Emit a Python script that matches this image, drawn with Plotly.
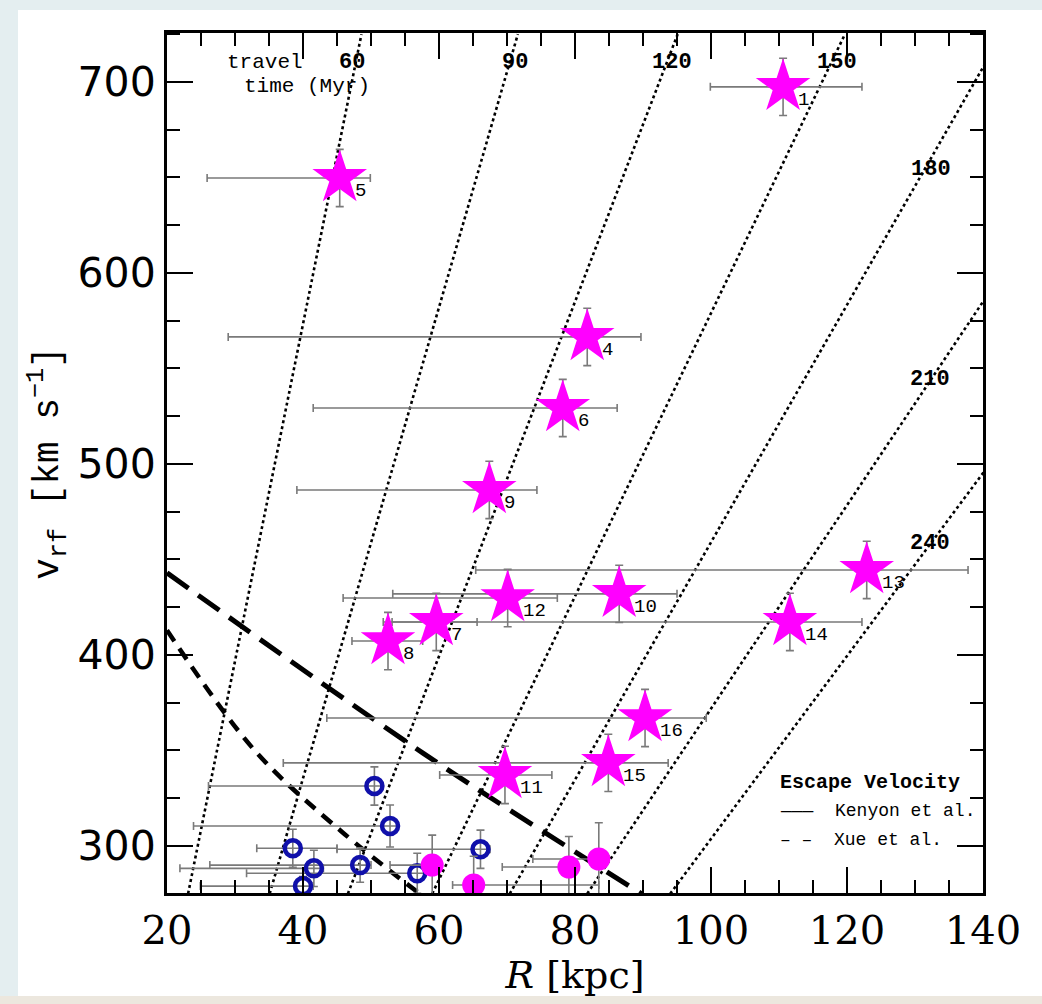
import plotly.graph_objects as go

# ---------------- data ----------------
# hypervelocity stars (magenta stars with labels)
star_id = ["1", "5", "4", "6", "9", "13", "12", "10", "7", "14", "8", "16", "11", "15"]
star_R = [110.6, 45.4, 81.8, 78.2, 67.4, 122.9, 70.1, 86.5, 59.6, 111.6, 52.5, 90.3, 69.7, 84.9]
star_v = [697.4, 649.7, 566.5, 529.3, 486.4, 444.5, 429.8, 432.0, 417.3, 417.3, 407.3, 367.0, 337.2, 343.5]
star_Rlo = [99.9, 25.9, 29.0, 41.5, 39.1, 65.4, 45.9, 53.2, 51.8, 53.1, 47.2, 43.5, 60.1, 37.1]
star_Rhi = [122.2, 49.9, 89.7, 86.2, 74.4, 137.8, 77.4, 95.0, 65.6, 122.2, 57.6, 99.3, 76.6, 93.7]
star_verr = [15, 15, 15, 15, 15, 15, 15, 15, 15, 15, 15, 15, 15, 15]

# bound stars (filled magenta circles)
bnd_R = [59.0, 65.1, 79.1, 83.5]
bnd_v = [290.0, 279.6, 289.0, 293.2]
bnd_Rlo = [52.8, 62.0, 69.3, 73.8]
bnd_Rhi = [60.0, 83.5, 80.5, 85.0]
bnd_verr = [15.7, 15.0, 16.0, 19.0]

# open blue circles
opn_R = [50.5, 52.8, 38.5, 41.6, 48.4, 56.8, 66.1, 40.0]
opn_v = [331.4, 310.5, 298.8, 288.3, 290.0, 285.7, 298.3, 279.0]
opn_Rlo = [26.1, 23.9, 33.2, 21.9, 26.3, 31.7, 45.0, 24.9]
opn_Rhi = [51.5, 54.0, 45.0, 43.0, 50.0, 58.0, 67.5, 41.5]
opn_verr = [10, 11, 10, 9.5, 9, 10.5, 10, 5]

# travel-time lines: R at v=275 and at v=725
tt_label = ["60", "90", "120", "150", "180", "210", "240"]
tt_v_ends = [275, 725]
tt_R_bottom = [23.1, 35.1, 46.6, 59.0, 70.4, 81.8, 94.0]
tt_R_top = [48.6, 71.6, 95.1, 119.7, 142.8, 166.3, 188.0]
tt_lab_R = [47.2, 71.2, 94.2, 118.5, 132.4, 132.2, 132.2]
tt_lab_v = [710.0, 710.0, 710.0, 710.0, 653.9, 544.0, 458.5]

# escape velocity curves
esc1_R = [20, 57.7, 89.8]
esc1_v = [443, 348.5, 275]
esc2_R = [20, 32.9, 45.7, 56.8]
esc2_v = [413, 350, 307.5, 276]

x_range = [20, 140]
y_range = [275.4, 725.6]

# ---------------- figure ----------------
fig = go.Figure()

for i in range(len(tt_label)):
    fig.add_trace(go.Scatter(
        x=[tt_R_bottom[i], tt_R_top[i]], y=tt_v_ends, mode="lines",
        line=dict(color="black", width=2.6, dash="dot"), showlegend=False, hoverinfo="skip"))

fig.add_trace(go.Scatter(x=esc1_R, y=esc1_v, mode="lines",
                         line=dict(color="black", width=5, dash="26px,12px", shape="spline"),
                         showlegend=False))
fig.add_trace(go.Scatter(x=esc2_R, y=esc2_v, mode="lines",
                         line=dict(color="black", width=4.5, dash="13px,9px", shape="spline"),
                         showlegend=False))

errc = "#7a7a7a"

def xerr(R, lo, hi):
    return dict(type="data", symmetric=False,
                array=[h - r for r, h in zip(R, hi)],
                arrayminus=[r - l for r, l in zip(R, lo)],
                color=errc, thickness=1.6, width=4)

def yerr(e):
    return dict(type="data", array=e, color=errc, thickness=1.6, width=4)

fig.add_trace(go.Scatter(
    x=opn_R, y=opn_v, mode="markers",
    marker=dict(symbol="circle-open", size=16, color="#1010aa", line=dict(width=4.5, color="#1010aa")),
    error_x=xerr(opn_R, opn_Rlo, opn_Rhi), error_y=yerr(opn_verr), showlegend=False))

fig.add_trace(go.Scatter(
    x=bnd_R, y=bnd_v, mode="markers",
    marker=dict(symbol="circle", size=23, color="#ff00ff", line=dict(width=0)),
    error_x=xerr(bnd_R, bnd_Rlo, bnd_Rhi), error_y=yerr(bnd_verr), showlegend=False))

fig.add_trace(go.Scatter(
    x=star_R, y=star_v, mode="markers",
    marker=dict(symbol="star", size=41, color="#ff00ff", line=dict(width=0)),
    error_x=xerr(star_R, star_Rlo, star_Rhi), error_y=yerr(star_verr), showlegend=False))

ann = []
for i in range(len(star_id)):
    ann.append(dict(x=star_R[i], y=star_v[i], text=star_id[i], showarrow=False,
                    xanchor="left", yanchor="middle", xshift=13, yshift=-13,
                    font=dict(family="Liberation Mono", size=19, color="black")))
for i in range(len(tt_label)):
    ann.append(dict(x=tt_lab_R[i], y=tt_lab_v[i], text="<b>" + tt_label[i] + "</b>", showarrow=False,
                    xanchor="center", yanchor="middle",
                    font=dict(family="Liberation Mono", size=22, color="black")))
ann.append(dict(x=28.5, y=710.0, text="travel", showarrow=False, xanchor="left", yanchor="middle",
                font=dict(family="Liberation Mono", size=21, color="black")))
ann.append(dict(x=31.0, y=697.5, text="time (Myr)", showarrow=False, xanchor="left", yanchor="middle",
                font=dict(family="Liberation Mono", size=21, color="black")))
ann.append(dict(x=109.9, y=333.5, text="<b>Escape Velocity</b>", showarrow=False, xanchor="left",
                yanchor="middle", font=dict(family="Liberation Mono", size=20, color="black")))
ann.append(dict(x=109.9, y=318.3, text="\u2014\u2014\u2014  Kenyon et al.", showarrow=False, xanchor="left",
                yanchor="middle", font=dict(family="Liberation Mono", size=18, color="black")))
ann.append(dict(x=109.9, y=303.0, text="\u2013 \u2013  Xue et al.", showarrow=False, xanchor="left",
                yanchor="middle", font=dict(family="Liberation Mono", size=18, color="black")))

# page decoration (slide background strips)
W, H = 1042, 1004
L, R_, T, B = 167, 59, 33, 111
pw, ph = W - L - R_, H - T - B
def px2paper(px, py):
    return (px - L) / pw, (H - B - py) / ph
x0, ytop = px2paper(18, 10)
x1, ybot = px2paper(1060, 996)
_, ybase = px2paper(0, 1010)
shapes = [
    dict(type="rect", xref="paper", yref="paper", x0=px2paper(-5, 0)[0], y0=ybase, x1=x1, y1=ybot,
         fillcolor="#ece7de", line=dict(width=0), layer="below"),
    dict(type="rect", xref="paper", yref="paper", x0=x0, y0=ybot, x1=x1, y1=ytop,
         fillcolor="white", line=dict(width=0), layer="below"),
]

axis_common = dict(showgrid=False, zeroline=False, showline=True, linecolor="black", linewidth=3,
                   mirror="ticks", ticks="inside", ticklen=26, tickwidth=2, tickcolor="black")

fig.update_layout(
    width=W, height=H,
    margin=dict(l=L, r=R_, t=T, b=B),
    paper_bgcolor="#e4eef0", plot_bgcolor="white",
    shapes=shapes, annotations=ann,
    xaxis=dict(range=x_range, dtick=20, tick0=20,
               minor=dict(ticks="inside", ticklen=13, dtick=5, tickwidth=2, tickcolor="black"),
               tickfont=dict(family="DejaVu Serif", size=40, color="black"),
               title=dict(text="<i>R</i> [kpc]", font=dict(family="DejaVu Serif", size=38, color="black"),
                          standoff=6),
               **axis_common),
    yaxis=dict(range=y_range, dtick=100, tick0=300,
               minor=dict(ticks="inside", ticklen=13, dtick=25, tickwidth=2, tickcolor="black"),
               tickfont=dict(family="DejaVu Sans", size=41, color="black"),
               title=dict(text="v<sub>rf</sub> [km s<sup>\u22121</sup>]",
                          font=dict(family="Liberation Mono", size=36, color="black"), standoff=8),
               **axis_common),
)

fig.write_html("out.html")
